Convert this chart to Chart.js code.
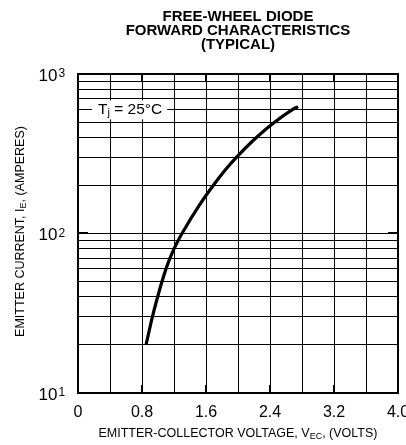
<!DOCTYPE html>
<html>
<head>
<meta charset="utf-8">
<script src="https://cdn.jsdelivr.net/npm/chart.js@4"></script>
<style>
  html, body { margin: 0; padding: 0; background: #fff; }
  canvas { display: block; }
</style>
</head>
<body>
<canvas id="diode" width="406" height="445"></canvas>
<script>
const FONT = '"Liberation Sans", Arial, Helvetica, sans-serif';

const titleLines = ["FREE-WHEEL DIODE", "FORWARD CHARACTERISTICS", "(TYPICAL)"];

// forward voltage (V) vs emitter current (A)
const vec = [0.85, 0.93, 0.995, 1.05, 1.1, 1.15, 1.2, 1.25, 1.3, 1.515, 1.69, 1.84, 1.98, 2.23, 2.46, 2.685, 2.75];
const ie = [20, 30, 40, 50, 60, 70, 80, 90, 100, 150, 200, 250, 300, 400, 500, 600, 625];

const xGrid = [0, 0.4, 0.8, 1.2, 1.6, 2.0, 2.4, 2.8, 3.2, 3.6, 4.0];
const xTickLabels = ["0", "0.8", "1.6", "2.4", "3.2", "4.0"];
const xMajor = [0.8, 1.6, 2.4, 3.2];

const yGrid = [10, 20, 30, 40, 50, 60, 70, 80, 90, 100, 200, 300, 400, 500, 600, 700, 800, 900, 1000];
const yTickValues = [10, 100, 1000];
const yTickBase = ["10", "10", "10"];
const yTickExp = ["1", "2", "3"];
const yMajor = [100];

const tempLabel = [{ t: "T" }, { t: "j", sub: true }, { t: " = 25°C" }];
const xTitle = [{ t: "EMITTER-COLLECTOR VOLTAGE, V" }, { t: "EC", sub: true }, { t: ", (VOLTS)" }];
const yTitle = [{ t: "EMITTER CURRENT, I" }, { t: "E", sub: true }, { t: ", (AMPERES)" }];

// draws text made of normal and subscript pieces, starting at x (left) on a middle baseline
function drawParts(ctx, parts, x, y, size, subSize, subDy) {
  let cx = x;
  ctx.textBaseline = "middle";
  ctx.textAlign = "left";
  parts.forEach((p) => {
    ctx.font = `${p.sub ? subSize : size}px ${FONT}`;
    ctx.fillText(p.t, cx, p.sub ? y + subDy : y);
    cx += ctx.measureText(p.t).width;
  });
  return cx - x;
}
function partsWidth(ctx, parts, size, subSize) {
  let w = 0;
  parts.forEach((p) => {
    ctx.font = `${p.sub ? subSize : size}px ${FONT}`;
    w += ctx.measureText(p.t).width;
  });
  return w;
}

const decor = {
  id: "decor",
  beforeDatasetsDraw(chart) {
    const { ctx, chartArea: a, scales: { x, y } } = chart;
    ctx.save();
    ctx.strokeStyle = "#000";
    ctx.fillStyle = "#000";

    // frame
    ctx.lineWidth = 2;
    ctx.strokeRect(a.left, a.top, a.right - a.left, a.bottom - a.top);

    // inward tick marks
    ctx.beginPath();
    xMajor.forEach((v) => {
      const px = Math.round(x.getPixelForValue(v));
      ctx.moveTo(px, a.bottom); ctx.lineTo(px, a.bottom - 8);
      ctx.moveTo(px, a.top); ctx.lineTo(px, a.top + 8);
    });
    yMajor.forEach((v) => {
      const py = Math.round(y.getPixelForValue(v));
      ctx.moveTo(a.left, py); ctx.lineTo(a.left + 10, py);
      ctx.moveTo(a.right, py); ctx.lineTo(a.right - 10, py);
    });
    ctx.stroke();

    // temperature label in a white box
    const tx = x.getPixelForValue(0.25);
    const ty = y.getPixelForValue(600);
    const w = partsWidth(ctx, tempLabel, 15.5, 11);
    ctx.fillStyle = "#fff";
    ctx.fillRect(tx - 6, ty - 9, w + 11, 19);
    ctx.fillStyle = "#000";
    drawParts(ctx, tempLabel, tx, ty, 15.5, 11, 4);
    ctx.restore();
  },
  afterDraw(chart) {
    const { ctx, chartArea: a, scales: { y } } = chart;
    ctx.save();
    ctx.fillStyle = "#000";

    // y tick labels with exponents
    yTickValues.forEach((v, i) => {
      const py = y.getPixelForValue(v);
      ctx.textBaseline = "alphabetic";
      ctx.textAlign = "right";
      ctx.font = `17px ${FONT}`;
      ctx.fillText(yTickBase[i], 57.5, py + 7);
      ctx.textAlign = "left";
      ctx.font = `12px ${FONT}`;
      ctx.fillText(yTickExp[i], 58.5, py + 3.4);
    });

    // x axis title
    const xw = partsWidth(ctx, xTitle, 12.5, 9);
    drawParts(ctx, xTitle, (a.left + a.right) / 2 - xw / 2, 433.5, 12.5, 9, 3);

    // y axis title
    const yw = partsWidth(ctx, yTitle, 12.5, 9);
    ctx.translate(20.5, (a.top + a.bottom) / 2 - 2);
    ctx.rotate(-Math.PI / 2);
    drawParts(ctx, yTitle, -yw / 2, 0, 12.5, 9, 3);
    ctx.restore();
  },
};

const ctx = document.getElementById("diode").getContext("2d");
const diodeChart = new Chart(ctx, {
  type: "line",
  data: {
    datasets: [
      {
        data: vec.map((v, i) => ({ x: v, y: ie[i] })),
        borderColor: "#000",
        borderWidth: 3.2,
        pointRadius: 0,
        cubicInterpolationMode: "monotone",
        fill: false,
      },
    ],
  },
  options: {
    responsive: false,
    animation: false,
    layout: { padding: { left: 0, right: 8, top: 0, bottom: 0 } },
    plugins: {
      legend: { display: false },
      tooltip: { enabled: false },
      title: {
        display: true,
        text: titleLines,
        fullSize: false,
        color: "#000",
        font: { family: FONT, size: 15, weight: "bold", lineHeight: 0.913 },
        padding: { top: 10.5, bottom: 22.4 },
      },
    },
    scales: {
      x: {
        type: "linear",
        min: 0,
        max: 4,
        afterBuildTicks: (s) => {
          s.ticks = xGrid.map((v) => ({ value: v }));
        },
        afterFit: (s) => {
          s.height = 52;
          s.paddingLeft = 0;
          s.paddingRight = 0;
        },
        grid: { color: "#000", lineWidth: 1, drawTicks: false },
        border: { color: "#000", width: 2 },
        ticks: {
          autoSkip: false,
          maxRotation: 0,
          padding: 10,
          color: "#000",
          font: { family: FONT, size: 16 },
          callback: (v, i) => (i % 2 === 0 ? xTickLabels[i / 2] : ""),
        },
      },
      y: {
        type: "logarithmic",
        min: 10,
        max: 1000,
        afterBuildTicks: (s) => {
          s.ticks = yGrid.map((v) => ({ value: v }));
        },
        afterFit: (s) => {
          s.width = 78;
        },
        grid: { color: "#000", lineWidth: 1, drawTicks: false },
        border: { color: "#000", width: 2 },
        ticks: { display: false },
      },
    },
  },
  plugins: [decor],
});
</script>
</body>
</html>
